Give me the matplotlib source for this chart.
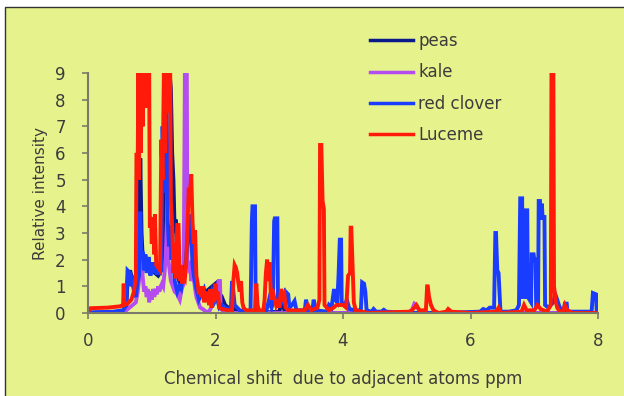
import matplotlib
matplotlib.use('Agg')
import matplotlib.pyplot as plt
from matplotlib.patches import Rectangle

# spectra (chemical shift ppm, relative intensity)
peas_x = [0.00, 0.50, 0.60, 0.62, 0.66, 0.70, 0.74, 0.78, 0.80, 0.82, 0.84, 0.86, 0.90, 0.95,
          1.00, 1.05, 1.10, 1.15, 1.18, 1.20, 1.22, 1.28, 1.30, 1.32, 1.34, 1.36, 1.38, 1.40,
          1.45, 1.50, 1.55, 1.58, 1.62, 1.66, 1.70, 1.75, 1.80, 1.85, 1.90, 1.95, 2.00, 2.04,
          2.10, 2.15, 2.20, 2.30, 2.40, 2.60, 3.00, 3.05, 3.08, 3.50, 8.00]
peas_y = [0.00, 0.05, 0.15, 1.20, 1.60, 1.20, 0.60, 1.00, 2.00, 5.80, 3.00, 2.00, 1.80, 1.90,
          1.60, 1.50, 1.40, 1.60, 2.40, 7.00, 9.00, 9.00, 8.40, 6.00, 5.00, 3.00, 3.50, 1.50,
          1.00, 1.30, 2.00, 3.50, 2.80, 1.50, 0.90, 0.60, 0.80, 0.80, 0.90, 1.00, 1.10, 0.50,
          0.60, 0.30, 0.20, 0.15, 0.05, 0.00, 0.05, 0.50, 0.10, 0.00, 0.00]

kale_x = [0.00, 0.40, 0.60, 0.70, 0.75, 0.78, 0.80, 0.82, 0.84, 0.86, 0.88, 0.90, 0.92, 0.94,
          0.96, 0.98, 1.00, 1.02, 1.04, 1.06, 1.08, 1.10, 1.12, 1.14, 1.16, 1.18, 1.20, 1.22,
          1.24, 1.26, 1.28, 1.30, 1.33, 1.36, 1.40, 1.44, 1.47, 1.50, 1.52, 1.55, 1.56, 1.58,
          1.60, 1.62, 1.65, 1.68, 1.70, 1.73, 1.76, 1.80, 1.85, 1.90, 1.95, 2.00, 2.03, 2.05,
          2.07, 2.08, 2.12, 2.30, 5.00, 5.08, 5.12, 5.15, 5.18, 5.22, 5.30, 8.00]
kale_y = [0.00, 0.03, 0.10, 0.30, 0.40, 0.80, 1.20, 2.50, 1.90, 1.30, 0.80, 1.00, 0.60, 0.90,
          0.40, 0.80, 0.50, 0.90, 0.60, 0.90, 0.70, 1.00, 0.80, 1.00, 1.10, 1.00, 1.50, 2.20,
          3.60, 2.00, 1.60, 1.20, 1.00, 0.80, 0.70, 0.50, 0.90, 1.10, 9.00, 9.00, 2.00, 1.70,
          1.80, 1.20, 1.50, 0.90, 0.60, 0.40, 0.20, 0.15, 0.05, 0.05, 0.30, 0.80, 1.00, 1.20,
          1.20, 0.20, 0.05, 0.00, 0.00, 0.10, 0.35, 0.30, 0.15, 0.05, 0.00, 0.00]

clover_x = [0.00, 0.40, 0.55, 0.60, 0.62, 0.66, 0.68, 0.70, 0.72, 0.75, 0.78, 0.80, 0.82, 0.84,
            0.86, 0.88, 0.90, 0.92, 0.95, 0.98, 1.00, 1.03, 1.06, 1.08, 1.12, 1.15, 1.17, 1.19,
            1.21, 1.23, 1.25, 1.27, 1.29, 1.31, 1.33, 1.36, 1.38, 1.40, 1.43, 1.46, 1.50, 1.53,
            1.56, 1.58, 1.60, 1.62, 1.64, 1.66, 1.70, 1.74, 1.78, 1.82, 1.86, 1.90, 1.94, 1.98,
            2.02, 2.06, 2.10, 2.15, 2.20, 2.24, 2.26, 2.28, 2.30, 2.34, 2.38, 2.45, 2.55, 2.57,
            2.58, 2.62, 2.63, 2.70, 2.80, 2.84, 2.88, 2.90, 2.92, 2.93, 2.95, 2.97, 2.98, 3.02,
            3.05, 3.08, 3.10, 3.14, 3.16, 3.20, 3.24, 3.27, 3.40, 3.42, 3.45, 3.52, 3.54, 3.57,
            3.75, 3.78, 3.82, 3.86, 3.88, 3.91, 3.93, 3.95, 3.97, 3.98, 4.03, 4.06, 4.10, 4.20,
            4.28, 4.30, 4.33, 4.35, 4.37, 4.45, 4.48, 4.52, 4.60, 4.64, 4.68, 5.00, 5.50, 6.15,
            6.20, 6.25, 6.30, 6.37, 6.39, 6.40, 6.42, 6.44, 6.45, 6.47, 6.60, 6.72, 6.76, 6.78,
            6.81, 6.82, 6.86, 6.87, 6.89, 6.90, 6.95, 6.96, 6.99, 7.00, 7.02, 7.03, 7.06, 7.07,
            7.09, 7.10, 7.12, 7.13, 7.16, 7.17, 7.22, 7.26, 7.30, 7.33, 7.36, 7.40, 7.46, 7.48,
            7.51, 7.52, 7.90, 7.92, 7.97, 7.98]
clover_y = [0.02, 0.05, 0.10, 0.30, 1.60, 1.50, 1.00, 1.40, 0.80, 0.60, 1.20, 1.40, 3.80, 2.00,
            2.30, 1.60, 2.20, 1.50, 2.10, 1.40, 1.90, 1.50, 1.90, 1.50, 1.50, 1.60, 7.00, 4.50,
            9.00, 9.00, 3.50, 2.50, 3.30, 2.00, 2.60, 1.20, 1.00, 0.80, 1.00, 0.90, 1.60, 1.80,
            2.70, 3.70, 3.00, 3.30, 1.80, 1.40, 0.90, 0.50, 0.70, 0.90, 0.50, 0.50, 0.80, 0.40,
            0.60, 0.20, 0.30, 0.20, 0.15, 0.10, 1.20, 0.80, 0.30, 0.20, 0.10, 0.05, 0.10, 3.40,
            4.00, 4.00, 0.20, 0.05, 0.10, 0.50, 0.20, 0.40, 3.45, 3.55, 3.55, 3.55, 0.40, 0.30,
            0.50, 0.40, 0.80, 0.70, 0.20, 0.30, 0.45, 0.10, 0.10, 0.50, 0.10, 0.10, 0.50, 0.10,
            0.05, 0.30, 0.20, 0.90, 0.50, 0.40, 1.40, 2.75, 2.75, 0.40, 0.30, 0.50, 0.15, 0.10,
            0.10, 1.15, 1.10, 0.80, 0.10, 0.05, 0.15, 0.05, 0.05, 0.12, 0.05, 0.00, 0.00, 0.05,
            0.15, 0.10, 0.20, 0.20, 3.00, 3.00, 1.60, 1.50, 1.00, 0.05, 0.05, 0.10, 0.30, 4.30,
            4.30, 0.60, 0.60, 3.85, 3.85, 0.60, 0.40, 2.20, 2.20, 2.00, 2.00, 0.30, 0.30, 4.20,
            4.20, 3.50, 4.10, 3.60, 3.60, 0.30, 0.20, 0.30, 0.40, 0.70, 0.50, 0.20, 0.10, 0.35,
            0.35, 0.05, 0.05, 0.75, 0.70, 0.00]

lucerne_x = [0.00, 0.04, 0.30, 0.50, 0.55, 0.56, 0.57, 0.62, 0.68, 0.72, 0.75, 0.76, 0.78, 0.79,
             0.80, 0.81, 0.83, 0.84, 0.86, 0.87, 0.89, 0.90, 0.92, 0.93, 0.95, 0.96, 0.97, 0.99,
             1.00, 1.02, 1.04, 1.05, 1.07, 1.10, 1.13, 1.15, 1.17, 1.19, 1.21, 1.22, 1.24, 1.25,
             1.27, 1.29, 1.30, 1.32, 1.34, 1.36, 1.38, 1.40, 1.42, 1.44, 1.46, 1.48, 1.50, 1.52,
             1.54, 1.56, 1.58, 1.60, 1.62, 1.64, 1.66, 1.68, 1.70, 1.72, 1.74, 1.76, 1.78, 1.80,
             1.82, 1.85, 1.88, 1.90, 1.92, 1.94, 1.96, 1.98, 2.00, 2.02, 2.04, 2.06, 2.10, 2.20,
             2.26, 2.28, 2.30, 2.32, 2.34, 2.36, 2.38, 2.40, 2.42, 2.44, 2.48, 2.62, 2.64, 2.66,
             2.68, 2.75, 2.77, 2.79, 2.81, 2.83, 2.85, 2.87, 2.89, 2.92, 2.95, 2.98, 3.00, 3.03,
             3.06, 3.08, 3.10, 3.14, 3.40, 3.45, 3.50, 3.60, 3.63, 3.64, 3.66, 3.68, 3.70, 3.71,
             3.78, 3.85, 3.90, 4.00, 4.05, 4.08, 4.11, 4.12, 4.13, 4.15, 4.17, 4.20, 4.40, 5.05,
             5.10, 5.15, 5.20, 5.30, 5.32, 5.33, 5.35, 5.38, 5.42, 5.50, 5.62, 5.65, 5.70, 6.00,
             6.40, 6.44, 6.48, 6.80, 6.84, 6.88, 7.00, 7.05, 7.10, 7.20, 7.26, 7.27, 7.30, 7.31,
             7.34, 7.36, 7.40, 7.45, 7.48, 7.52, 7.60, 8.00]
lucerne_y = [0.05, 0.18, 0.20, 0.25, 0.30, 1.10, 0.30, 0.35, 0.50, 0.80, 1.30, 6.00, 5.90, 9.00,
             5.00, 9.00, 6.00, 9.00, 7.00, 9.00, 8.00, 9.00, 7.70, 9.00, 9.00, 9.00, 3.20, 3.60,
             2.60, 3.30, 2.20, 3.70, 1.80, 1.70, 1.60, 6.50, 5.00, 9.00, 6.00, 9.00, 9.00, 7.50,
             9.00, 9.00, 4.20, 3.30, 1.50, 2.60, 1.30, 3.30, 3.30, 1.20, 1.80, 1.10, 1.40, 1.30,
             1.90, 3.20, 4.70, 4.50, 5.20, 3.40, 2.60, 3.10, 1.40, 1.10, 0.70, 1.00, 0.60, 1.00,
             0.40, 0.80, 0.50, 0.30, 0.90, 0.20, 0.90, 0.40, 1.10, 0.50, 0.80, 0.20, 0.15, 0.10,
             0.10, 1.20, 1.80, 1.70, 1.50, 1.10, 0.80, 1.20, 0.40, 0.20, 0.10, 0.10, 1.10, 0.30,
             0.10, 0.10, 0.50, 1.50, 2.00, 1.20, 1.90, 0.50, 0.90, 0.60, 0.30, 0.50, 0.20, 0.90,
             0.60, 0.70, 0.20, 0.10, 0.10, 0.30, 0.10, 0.20, 0.50, 6.30, 6.30, 4.20, 3.90, 0.30,
             0.10, 0.20, 0.30, 0.30, 0.20, 1.40, 1.50, 3.20, 3.20, 1.80, 0.40, 0.10, 0.00, 0.05,
             0.15, 0.30, 0.10, 0.10, 1.00, 1.00, 0.60, 0.30, 0.10, 0.00, 0.05, 0.15, 0.05, 0.00,
             0.05, 0.20, 0.00, 0.05, 0.30, 0.10, 0.10, 0.30, 0.15, 0.05, 0.30, 9.00, 9.00, 1.00,
             0.40, 0.20, 0.05, 0.05, 0.30, 0.10, 0.00, 0.00]

labels = ['peas', 'kale', 'red clover', 'Luceme']
colors = ['#0a1a8c', '#b44cf2', '#1a3cff', '#ff1a0a']
x_ticks = [0, 2, 4, 6, 8]
y_ticks = [0, 1, 2, 3, 4, 5, 6, 7, 8, 9]

bg = '#e6f38c'
txt = '#3c3c3c'
plt.rcParams['font.family'] = ['DejaVu Sans']

fig = plt.figure(figsize=(6.24, 3.96), dpi=100, facecolor='white')
# yellow panel with thin dark frame, kept behind the axes
fig.patches.append(Rectangle((5 / 624, -0.01), 1.0, 1 - 7 / 396 + 0.01, transform=fig.transFigure,
                             facecolor=bg, edgecolor='#333333', linewidth=1.0, zorder=-10))

ax = fig.add_axes([88 / 624, 1 - 313 / 396, (598 - 88) / 624, (313 - 73) / 396])
ax.patch.set_alpha(0)

series = [(peas_x, peas_y), (kale_x, kale_y), (clover_x, clover_y), (lucerne_x, lucerne_y)]
for (xs, ys), lab, col in zip(series, labels, colors):
    ax.plot(xs, ys, color=col, linewidth=2.8, label=lab, solid_joinstyle='miter')

ax.set_xlim(0, 8)
ax.set_ylim(0, 9)
ax.set_xticks(x_ticks)
ax.set_yticks(y_ticks)
for s in ['top', 'right']:
    ax.spines[s].set_visible(False)
for s in ['left', 'bottom']:
    ax.spines[s].set_color('#7a7a6a')
    ax.spines[s].set_linewidth(1.5)
    ax.spines[s].set_zorder(5)
ax.tick_params(axis='both', colors='#7a7a6a', length=4, width=1.2, labelsize=12, labelcolor=txt)
ax.tick_params(axis='x', pad=10)
ax.tick_params(axis='y', pad=12)

ax.set_xlabel('Chemical shift  due to adjacent atoms ppm', fontsize=12, color=txt, labelpad=14)
ax.set_ylabel('Relative intensity', fontsize=11, color=txt, labelpad=5)

leg = fig.legend(loc='upper left', bbox_to_anchor=(370 / 624, 1 - 32 / 396), frameon=False,
                 fontsize=12, handlelength=2.6, handletextpad=0.3, labelspacing=0.8,
                 borderpad=0, borderaxespad=0)
for h in leg.get_lines():
    h.set_linewidth(2.5)
for t in leg.get_texts():
    t.set_color(txt)

fig.savefig('out.png', dpi=100, facecolor=fig.get_facecolor())
